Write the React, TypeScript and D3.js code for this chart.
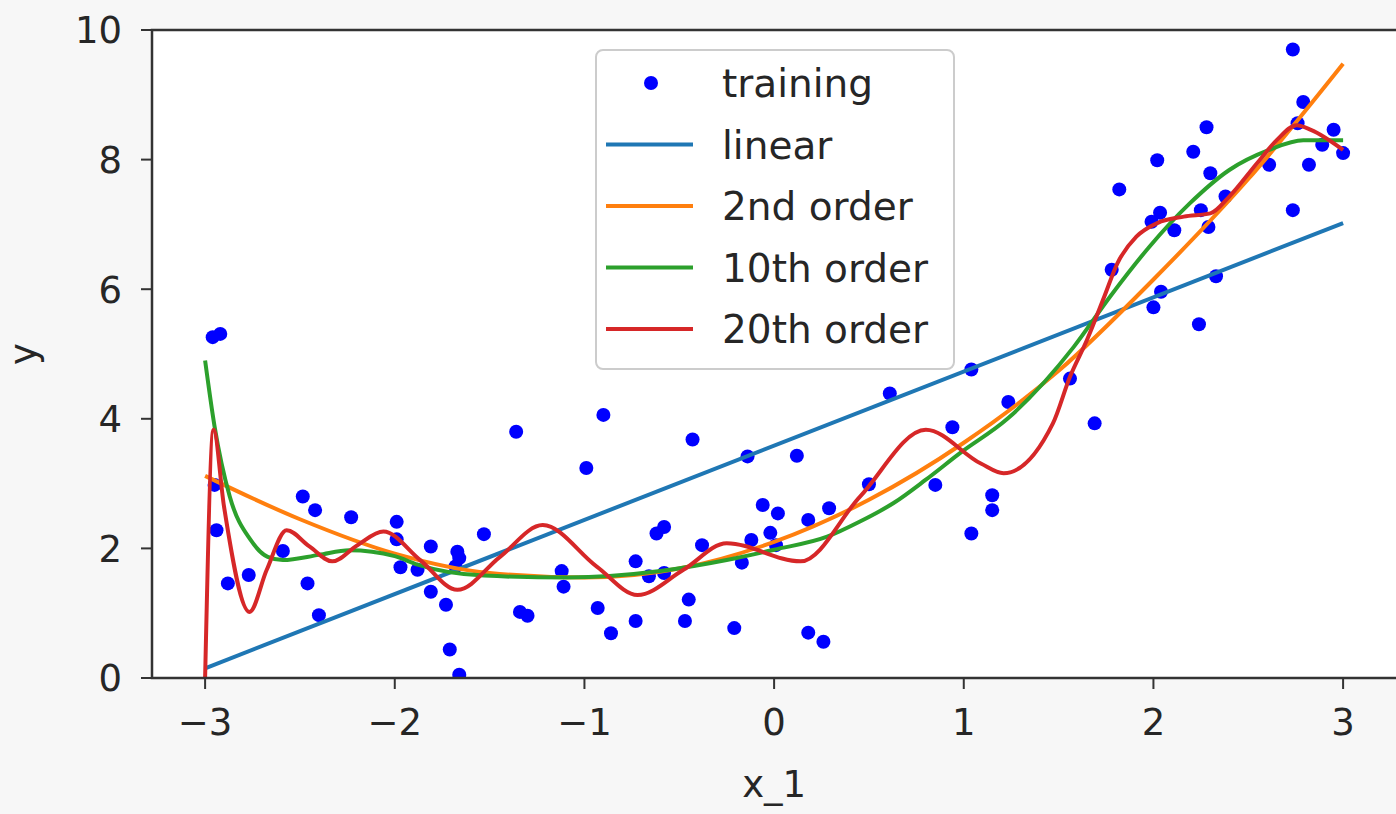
import React from "react";
import * as d3 from "d3";

// training samples
const trainX = [
  -2.96, -2.92, -2.94, -2.95, -2.88, -2.77, -2.59, -2.485, -2.42, -2.46, -2.4, -2.23,
  -1.99, -1.99, -1.97, -1.88, -1.81, -1.81, -1.73, -1.71, -1.66, -1.67, -1.66, -1.68,
  -1.53, -1.36, -1.34, -1.3, -1.12, -1.11, -0.9, -0.99, -0.93, -0.86, -0.73, -0.66,
  -0.58, -0.73, -0.62, -0.58, -0.43, -0.38, -0.45, -0.47, -0.21, -0.14, -0.12, -0.17,
  -0.06, 0.02, -0.02, 0.01, 0.12, 0.18, 0.29, 0.18, 0.26, 0.61, 0.5, 0.85, 0.94, 1.04,
  1.04, 1.235, 1.56, 1.69, 1.15, 1.15, 2.735, 2.79, 2.76, 2.95, 2.89, 3.0, 2.82, 2.61,
  2.735, 2.28, 2.21, 2.02, 2.3, 2.38, 1.82, 2.035, 1.99, 2.11, 2.25, 2.29, 1.78, 2.33,
  2.04, 2.0, 2.24,
];
const trainY = [
  5.26, 5.31, 2.28, 2.98, 1.46, 1.59, 1.96, 2.8, 2.59, 1.46, 0.97, 2.48,
  2.41, 2.14, 1.71, 1.67, 2.03, 1.33, 1.13, 0.44, 0.05, 1.95, 1.85, 1.72,
  2.22, 3.8, 1.02, 0.96, 1.65, 1.41, 4.06, 3.24, 1.08, 0.69, 1.8, 1.57,
  1.62, 0.88, 2.23, 2.33, 3.68, 2.05, 1.21, 0.88, 0.77, 3.42, 2.13, 1.78,
  2.67, 2.54, 2.24, 2.05, 3.43, 2.44, 2.62, 0.7, 0.56, 4.39, 2.99, 2.98, 3.87, 4.76,
  2.23, 4.26, 4.62, 3.93, 2.82, 2.59, 9.7, 8.89, 8.56, 8.46, 8.23, 8.1, 7.92, 7.92,
  7.22, 8.5, 8.12, 7.99, 7.79, 7.43, 7.54, 7.18, 7.04, 6.91, 7.22, 6.96, 6.3, 6.2,
  5.96, 5.72, 5.46,
];

const linearX = [-3, 3];
const linearY = [0.15, 7.02];

const quadX = [-3, -2.5, -2, -1.5, -1, -0.5, 0, 0.5, 1, 1.5, 2, 2.5, 3];
const quadY = [3.12, 2.45, 1.92, 1.62, 1.55, 1.69, 2.1, 2.75, 3.63, 4.74, 6.15, 7.7, 9.48];

const order10X = [
  -3, -2.95, -2.87, -2.76, -2.67, -2.59, -2.4, -2.24, -2, -1.88, -1.53, -1.09, -0.6,
  -0.25, 0, 0.28, 0.45, 0.63, 0.8, 0.98, 1.23, 1.58, 1.77, 1.98, 2.19, 2.4, 2.61, 2.79, 3,
];
const order10Y = [
  4.9, 3.88, 2.8, 2.13, 1.87, 1.82, 1.9, 1.97, 1.88, 1.75, 1.58, 1.55, 1.65,
  1.82, 1.98, 2.18, 2.41, 2.7, 3.06, 3.47, 4.0, 5.11, 5.88, 6.66, 7.32, 7.84, 8.15, 8.3, 8.3,
];

const order20X = [
  -3, -2.956, -2.9, -2.766, -2.675, -2.57, -2.45, -2.33, -2.197, -2.06, -1.866, -1.67,
  -1.445, -1.22, -0.935, -0.72, -0.478, -0.25, 0.14, 0.453, 0.8, 1.09, 1.21, 1.47, 1.56,
  1.65, 1.74, 1.81, 1.91, 2.02, 2.16, 2.3, 2.4, 2.545, 2.65, 2.755, 2.83, 3,
];
const order20Y = [
  0.0, 3.83, 2.64, 1.02, 1.67, 2.28, 2.03, 1.8, 2.05, 2.26, 1.82, 1.36,
  1.87, 2.36, 1.72, 1.28, 1.67, 2.08, 1.8, 2.8, 3.83, 3.31, 3.16, 3.93, 4.65,
  5.22, 5.88, 6.4, 6.81, 7.02, 7.12, 7.17, 7.43, 7.94, 8.3, 8.53, 8.46, 8.15,
];

const xTicks = [-3, -2, -1, 0, 1, 2, 3];
const yTicks = [0, 2, 4, 6, 8, 10];

const fits = [
  { label: "linear", xs: linearX, ys: linearY, color: "#1f77b4" },
  { label: "2nd order", xs: quadX, ys: quadY, color: "#ff7f0e" },
  { label: "10th order", xs: order10X, ys: order10Y, color: "#2ca02c" },
  { label: "20th order", xs: order20X, ys: order20Y, color: "#d62728" },
];

const fmt = (v: number) => (v < 0 ? "\u2212" + Math.abs(v) : String(v));

export default function App() {
  const width = 1396;
  const height = 814;
  const left = 152;
  const right = 1400;
  const top = 30;
  const bottom = 678;

  const x = d3.scaleLinear().domain([-3.28, 3.3]).range([left, right]);
  const y = d3.scaleLinear().domain([0, 10]).range([bottom, top]);

  const line = d3
    .line<[number, number]>()
    .x((d) => x(d[0]))
    .y((d) => y(d[1]))
    .curve(d3.curveMonotoneX);

  const font = "DejaVu Sans, sans-serif";
  const textColor = "#262626";
  const tickSize = 37;

  const legendRows = [{ label: "training", color: "#0000ff" }, ...fits];

  return (
    <svg
      width={width}
      height={height}
      style={{ position: "fixed", left: 0, top: 0, background: "#f7f7f7" }}
    >
      <defs>
        <clipPath id="plot">
          <rect x={left} y={top} width={right - left} height={bottom - top} />
        </clipPath>
      </defs>
      <rect x={left} y={top} width={right - left} height={bottom - top} fill="#fff" />

      <g clipPath="url(#plot)">
        {trainX.map((d, i) => (
          <circle key={i} cx={x(d)} cy={y(trainY[i])} r={7} fill="#0000ff" />
        ))}
        {fits.map((f) => (
          <path
            key={f.label}
            d={line(f.xs.map((v, i) => [v, f.ys[i]]) as [number, number][]) || ""}
            fill="none"
            stroke={f.color}
            strokeWidth={4}
          />
        ))}
      </g>

      {/* spines */}
      <rect
        x={left}
        y={top}
        width={right - left}
        height={bottom - top}
        fill="none"
        stroke="#333"
        strokeWidth={2.5}
      />

      {/* x axis */}
      {xTicks.map((t) => (
        <g key={t} transform={`translate(${x(t)},${bottom})`}>
          <line y2={11} stroke="#333" strokeWidth={2} />
          <text
            y={57}
            textAnchor="middle"
            fontFamily={font}
            fontSize={tickSize}
            fill={textColor}
          >
            {fmt(t)}
          </text>
        </g>
      ))}
      <text
        x={x(0)}
        y={797}
        textAnchor="middle"
        fontFamily={font}
        fontSize={tickSize}
        fill={textColor}
      >
        x_1
      </text>

      {/* y axis */}
      {yTicks.map((t) => (
        <g key={t} transform={`translate(${left},${y(t)})`}>
          <line x2={-11} stroke="#333" strokeWidth={2} />
          <text
            x={-30}
            dy="0.36em"
            textAnchor="end"
            fontFamily={font}
            fontSize={tickSize}
            fill={textColor}
          >
            {t}
          </text>
        </g>
      ))}
      <text
        transform={`translate(36,${(top + bottom) / 2}) rotate(-90)`}
        textAnchor="middle"
        fontFamily={font}
        fontSize={tickSize}
        fill={textColor}
      >
        y
      </text>

      {/* legend */}
      <g transform="translate(596,50)">
        <rect
          width={358}
          height={319}
          rx={7}
          fill="#fff"
          fillOpacity={0.85}
          stroke="#cccccc"
          strokeWidth={2}
        />
        {legendRows.map((r, i) => {
          const cy = 33 + i * 61.5;
          return (
            <g key={r.label} transform={`translate(0,${cy})`}>
              {i === 0 ? (
                <circle cx={55} cy={0} r={7} fill={r.color} />
              ) : (
                <line x1={10} x2={97} stroke={r.color} strokeWidth={4} />
              )}
              <text
                x={126}
                dy="0.36em"
                fontFamily={font}
                fontSize={39}
                fill={textColor}
              >
                {r.label}
              </text>
            </g>
          );
        })}
      </g>
    </svg>
  );
}
